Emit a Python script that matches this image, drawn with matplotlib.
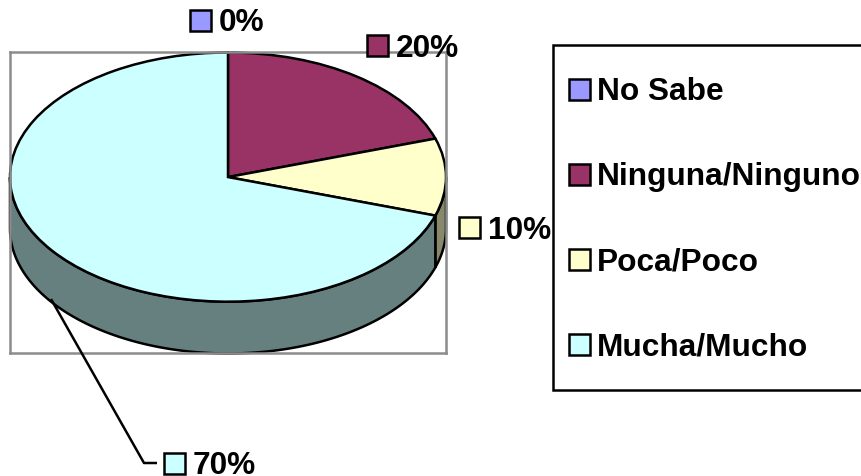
import numpy as np
import matplotlib
matplotlib.use("Agg")
import matplotlib.pyplot as plt
from matplotlib.patches import Rectangle, Polygon

plt.rcParams['font.family'] = ['Liberation Sans', 'DejaVu Sans']

categories = ["No Sabe", "Ninguna/Ninguno", "Poca/Poco", "Mucha/Mucho"]
values = [0, 20, 10, 70]
value_labels = ["0%", "20%", "10%", "70%"]
top_colors = ["#9999FF", "#993366", "#FFFFCC", "#CCFFFF"]
side_colors = ["#5C5C80", "#5C1F3D", "#88886C", "#668080"]

W, H = 861, 477
LW = 1.8
fig = plt.figure(figsize=(W/100, H/100), dpi=100, facecolor="white")

def rect(x0, y0, x1, y1):
    return [x0/W, 1-y1/H, (x1-x0)/W, (y1-y0)/H]

# pie axes: frame is the grey plot area
depth = 52/125
ax = fig.add_axes(rect(10, 52.5, 446, 353.5))
ax.set_xticks([]); ax.set_yticks([])
for s in ax.spines.values():
    s.set_color("#8c8c8c"); s.set_linewidth(1.8)

# side wall, from the same shares
edges = 90 - 3.6*np.cumsum([0]+values)
for i in range(len(values)):
    a0, a1 = edges[i], edges[i+1]
    lo, hi = max(a1, -180), min(a0, 0)
    if hi <= lo:
        continue
    t = np.radians(np.linspace(hi, lo, 120))
    xs, ys = np.cos(t), np.sin(t)
    pts = np.r_[np.c_[xs, ys], np.c_[xs[::-1], ys[::-1]-depth]]
    ax.add_patch(Polygon(pts, closed=True, fc=side_colors[i], ec="black", lw=LW, zorder=1, clip_on=False))

wedges, _ = ax.pie(values, colors=top_colors, startangle=90, counterclock=False,
                   radius=1, wedgeprops=dict(ec="black", lw=LW, zorder=2, clip_on=False), frame=True)
ax.set_aspect("auto")
ax.set_xlim(-1, 1)
ax.set_ylim(-1-depth+0.008, 1+0.008)
ax.set_xticks([]); ax.set_yticks([])

# overlay in pixel coordinates
ov = fig.add_axes([0, 0, 1, 1], facecolor="none")
ov.set_xlim(0, W); ov.set_ylim(H, 0); ov.axis("off")

fs = 22.8
cap = 10.3  # half digit height in pixels, for baseline placement
# leader line for the 70% label
ov.plot([157, 144, 51], [464, 464, 300], color="black", lw=LW, solid_capstyle="butt", zorder=1)

label_pos = [(190, 21), (367, 46.5), (459, 228.5), (164, 464)]
for (x, y), lab, c in zip(label_pos, value_labels, top_colors):
    ov.add_patch(Rectangle((x, y-10.5), 21, 21, fc=c, ec="black", lw=LW, zorder=3))
    ov.text(x+29, y+cap, lab, fontsize=fs, fontweight="bold", va="baseline", ha="left", color="black", zorder=3)

# legend box
ov.add_patch(Rectangle((553, 45.5), 330, 345.5, fc="white", ec="black", lw=LW, zorder=2))
leg_y = [90, 175, 260, 345]
for y, name, c in zip(leg_y, categories, top_colors):
    ov.add_patch(Rectangle((568.5, y-10.5), 21, 21, fc=c, ec="black", lw=LW, zorder=3))
    ov.text(597, y+cap, name, fontsize=fs, fontweight="bold", va="baseline", ha="left", color="black", zorder=3)

fig.savefig("out.png", dpi=100)
